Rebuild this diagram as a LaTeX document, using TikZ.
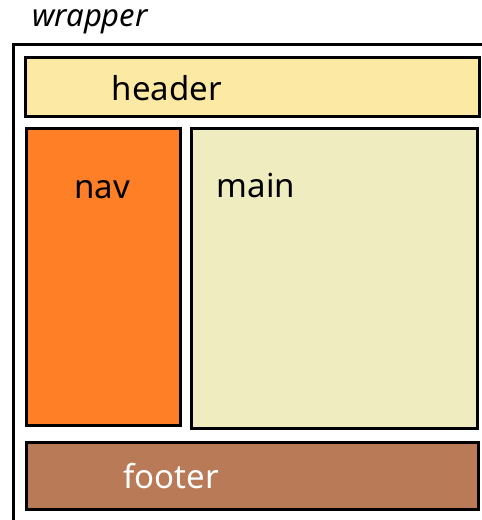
\documentclass[tikz,border=0pt]{standalone}
\usepackage{fontspec}
\setmainfont{Noto Sans}
\definecolor{hdr}{HTML}{FCE9A4}
\definecolor{navc}{HTML}{FF7F27}
\definecolor{mainc}{HTML}{EFEDC0}
\definecolor{ftr}{HTML}{B97A57}
\begin{document}
\begin{tikzpicture}[x=1pt,y=-1pt,
  box/.style={draw=black,line width=3pt},
  lbl/.style={font=\fontsize{33}{40}\selectfont,inner sep=0pt}]
\useasboundingbox (0,0) rectangle (482,520);
\clip (0,0) rectangle (482,520);
\draw[line width=3pt] (13,44) rectangle (500,540);
\node[lbl,font=\fontsize{31}{36}\selectfont\itshape] (wl) at (90,22) {wrapper};
\draw[box,fill=hdr] (25,57) rectangle (479,116);
\draw[box,fill=navc] (26,128) rectangle (180,425);
\draw[box,fill=mainc] (191,128) rectangle (477,428);
\draw[box,fill=ftr] (26,442) rectangle (478,509);
\node[lbl] (h) at (167,88) {header};
\node[lbl] (n) at (102,190) {nav};
\node[lbl] (m) at (256,186) {main};
\node[lbl,text=white] (f) at (171,476) {footer};
\end{tikzpicture}
\end{document}
